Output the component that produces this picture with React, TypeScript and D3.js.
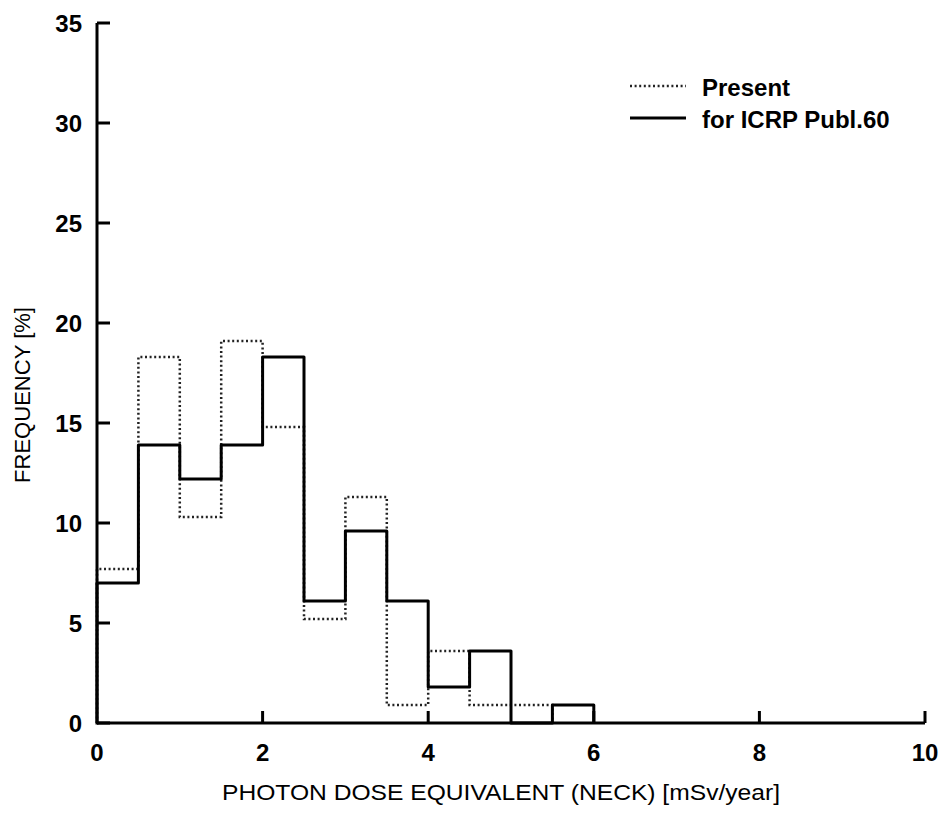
import React from "react";
import * as d3 from "d3";

const binStarts = [0, 0.5, 1, 1.5, 2, 2.5, 3, 3.5, 4, 4.5, 5, 5.5];
const binWidth = 0.5;
const icrpValues = [7.0, 13.9, 12.2, 13.9, 18.3, 6.1, 9.6, 6.1, 1.8, 3.6, 0, 0.9];
const presentValues = [7.7, 18.3, 10.3, 19.1, 14.8, 5.2, 11.3, 0.9, 3.6, 0.9, 0.9, 0];
const xTicks = [0, 2, 4, 6, 8, 10];
const yTicks = [0, 5, 10, 15, 20, 25, 30, 35];
const seriesNames = ["Present", "for ICRP Publ.60"];

const W = 942;
const H = 818;
const x0 = 97, x1 = 925, y0 = 723, y1 = 23;

export default function App() {
  const x = d3.scaleLinear().domain([0, 10]).range([x0, x1]);
  const y = d3.scaleLinear().domain([0, 35]).range([y0, y1]);

  const stepPts = (vals: number[]) => {
    const pts: [number, number][] = [[0, 0]];
    vals.forEach((v, i) => pts.push([binStarts[i], v]));
    let last = vals.length - 1;
    while (last > 0 && vals[last] === 0) last--;
    const trimmed = pts.slice(0, last + 2);
    trimmed.push([binStarts[last] + binWidth, 0]);
    return trimmed;
  };

  const line = d3
    .line<[number, number]>()
    .x((d) => x(d[0]))
    .y((d) => y(d[1]))
    .curve(d3.curveStepAfter);

  const font = "'Liberation Sans', Arial, Helvetica, sans-serif";

  return (
    <svg
      width={W}
      height={H}
      style={{ position: "absolute", left: 0, top: 0, background: "#fff" }}
      fontFamily={font}
    >
      {/* present (dotted) */}
      <path
        d={line(stepPts(presentValues)) || ""}
        fill="none"
        stroke="#222"
        strokeWidth={2.5}
        strokeDasharray="2 2.6"
      />
      {/* ICRP (solid) */}
      <path
        d={line(stepPts(icrpValues)) || ""}
        fill="none"
        stroke="#000"
        strokeWidth={3}
        strokeLinejoin="round"
      />
      {/* axes */}
      <line x1={x(0)} x2={x(0)} y1={y(0) + 1.5} y2={y(35)} stroke="#000" strokeWidth={3} />
      <line x1={x(0)} x2={x(10)} y1={y(0)} y2={y(0)} stroke="#000" strokeWidth={3} />
      {yTicks.map((t) => (
        <g key={"y" + t}>
          <line x1={x(0)} x2={x(0) + 13} y1={y(t)} y2={y(t)} stroke="#000" strokeWidth={3} />
          <text
            x={82}
            y={y(t)}
            textAnchor="end"
            dominantBaseline="central"
            fontSize={24}
            fontWeight="bold"
          >
            {t}
          </text>
        </g>
      ))}
      {xTicks.map((t) => (
        <g key={"x" + t}>
          {t > 0 && (
            <line x1={x(t)} x2={x(t)} y1={y(0)} y2={y(0) - 12} stroke="#000" strokeWidth={3} />
          )}
          <text
            x={x(t)}
            y={752}
            textAnchor="middle"
            dominantBaseline="central"
            fontSize={24}
            fontWeight="bold"
          >
            {t}
          </text>
        </g>
      ))}
      {/* axis titles */}
      <text
        x={501}
        y={792}
        textAnchor="middle"
        dominantBaseline="central"
        fontSize={22}
        textLength={558}
        lengthAdjust="spacingAndGlyphs"
      >
        PHOTON DOSE EQUIVALENT (NECK) [mSv/year]
      </text>
      <text
        transform={`translate(22,395) rotate(-90)`}
        textAnchor="middle"
        dominantBaseline="central"
        fontSize={22}
        textLength={176}
        lengthAdjust="spacingAndGlyphs"
      >
        FREQUENCY [%]
      </text>
      {/* legend */}
      <line x1={630} x2={686} y1={86} y2={86} stroke="#222" strokeWidth={2.5} strokeDasharray="2 2.6" />
      <text x={702} y={87} dominantBaseline="central" fontSize={24} fontWeight="bold">
        {seriesNames[0]}
      </text>
      <line x1={630} x2={686} y1={118} y2={118} stroke="#000" strokeWidth={3} />
      <text x={702} y={119} dominantBaseline="central" fontSize={24} fontWeight="bold">
        {seriesNames[1]}
      </text>
    </svg>
  );
}
